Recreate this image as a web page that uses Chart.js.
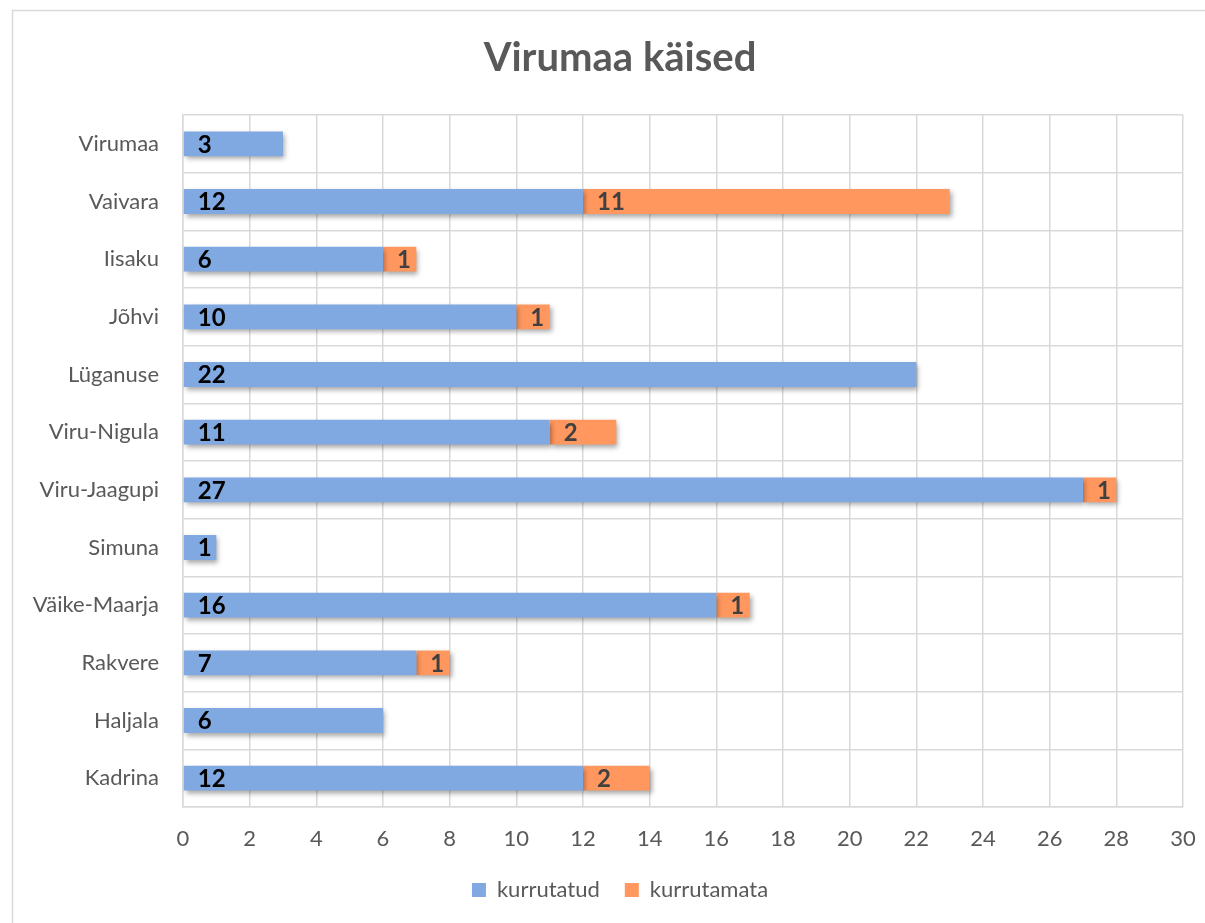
<!DOCTYPE html>
<html lang="et">
<head>
<meta charset="UTF-8">
<title>Virumaa käised</title>
<script src="https://cdn.jsdelivr.net/npm/chart.js"></script>
<style>
  html, body { margin: 0; background: #fff; overflow: hidden; }
  canvas { display: block; }
</style>
</head>
<body>
<!-- the chart frame in the picture runs past the right edge of the window -->
<canvas id="myChart" width="1240" height="923"></canvas>
<script>
// values, top row first
const categories = ['Virumaa', 'Vaivara', 'Iisaku', 'Jõhvi', 'Lüganuse', 'Viru-Nigula',
  'Viru-Jaagupi', 'Simuna', 'Väike-Maarja', 'Rakvere', 'Haljala', 'Kadrina'];
const kurrutatud = [3, 12, 6, 10, 22, 11, 27, 1, 16, 7, 6, 12];
const kurrutamata = [null, 11, 1, 1, null, 2, 1, null, 1, 1, null, 2];
const seriesNames = ['kurrutatud', 'kurrutamata'];
const xMin = 0, xMax = 30, xStep = 2;

const FONT = 'Lato, "Open Sans", sans-serif';
const GREY = '#595959';
const GRID = '#d9d9d9';

// outer frame (only top and left edges are visible in the picture)
const framePlugin = {
  id: 'frame',
  beforeDraw(chart) {
    const c = chart.ctx;
    c.save();
    c.fillStyle = '#fff';
    c.fillRect(0, 0, chart.width, chart.height);
    c.strokeStyle = GRID;
    c.lineWidth = 1.5;
    c.beginPath();
    c.moveTo(12.5, chart.height);
    c.lineTo(12.5, 10.5);
    c.lineTo(chart.width, 10.5);
    c.stroke();
    c.restore();
  }
};

// soft drop shadow under the bars
const shadowPlugin = {
  id: 'barShadow',
  beforeDatasetsDraw(chart) {
    const c = chart.ctx;
    c.save();
    c.shadowColor = 'rgba(0,0,0,0.35)';
    c.shadowBlur = 5;
    c.shadowOffsetX = 2;
    c.shadowOffsetY = 3;
  },
  afterDatasetsDraw(chart) {
    chart.ctx.restore();
  }
};

// value labels near the base of each segment
const labelPlugin = {
  id: 'segLabels',
  afterDatasetsDraw(chart) {
    const c = chart.ctx;
    c.save();
    c.font = 'bold 24px ' + FONT;
    c.textAlign = 'left';
    c.textBaseline = 'middle';
    chart.data.datasets.forEach((ds, i) => {
      const meta = chart.getDatasetMeta(i);
      c.fillStyle = i === 0 ? '#000' : '#404040';
      meta.data.forEach((bar, j) => {
        const v = ds.data[j];
        if (!v) return;
        c.fillText(String(v), Math.min(bar.x, bar.base) + 14, bar.y + 1);
      });
    });
    c.restore();
  }
};

new Chart(document.getElementById('myChart'), {
  type: 'bar',
  data: {
    labels: categories,
    datasets: [
      { label: seriesNames[0], data: kurrutatud, backgroundColor: '#80a8e1' },
      { label: seriesNames[1], data: kurrutamata, backgroundColor: '#ff975f' }
    ]
  },
  options: {
    indexAxis: 'y',
    responsive: false,
    animation: false,
    categoryPercentage: 1,
    barPercentage: 0.43,
    layout: { padding: { left: 12, right: 12, top: 0, bottom: 12 } },
    scales: {
      x: {
        stacked: true,
        min: xMin,
        max: xMax,
        ticks: { stepSize: xStep, color: GREY, font: { family: FONT, size: 22 }, padding: 19 },
        grid: { color: GRID, lineWidth: 1.5, drawTicks: false },
        border: { color: GRID, width: 1.5 },
        afterFit(s) {
          s.height = 47;
          s.paddingLeft = 0;
          s.paddingRight = 57;
        }
      },
      y: {
        stacked: true,
        ticks: { color: GREY, font: { family: FONT, size: 22 }, padding: 24 },
        grid: { color: GRID, lineWidth: 1.5, drawTicks: false, offset: true },
        border: { color: GRID, width: 1.5 },
        afterFit(s) { s.width = 171; }
      }
    },
    plugins: {
      title: {
        display: true,
        text: 'Virumaa käised',
        color: GREY,
        font: { family: FONT, size: 40, weight: 'bold' },
        padding: { top: 34, bottom: 33 }
      },
      legend: {
        position: 'bottom',
        labels: {
          color: GREY,
          font: { family: FONT, size: 22 },
          boxWidth: 14,
          boxHeight: 14,
          padding: 25
        }
      },
      tooltip: { enabled: false }
    }
  },
  plugins: [framePlugin, shadowPlugin, labelPlugin]
});
</script>
</body>
</html>
